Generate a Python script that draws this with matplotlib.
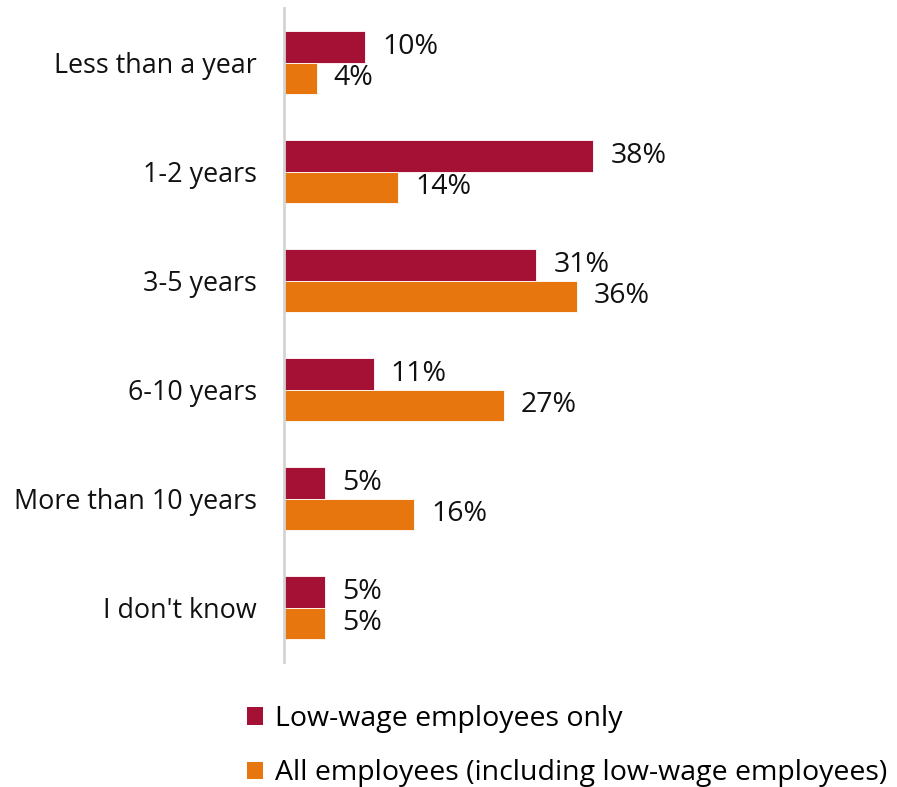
import matplotlib
matplotlib.use("Agg")
import matplotlib.pyplot as plt
import numpy as np
from matplotlib.patches import Patch

plt.rcParams['font.family'] = ['Open Sans', 'DejaVu Sans']

categories = ["Less than a year", "1-2 years", "3-5 years", "6-10 years",
              "More than 10 years", "I don't know"]
low_wage = [10, 38, 31, 11, 5, 5]
all_emp = [4, 14, 36, 27, 16, 5]
series_names = ["Low-wage employees only",
                "All employees (including low-wage employees)"]
colors = ["#A51134", "#E8760F"]

W, H = 897, 787
fig = plt.figure(figsize=(W / 100, H / 100), dpi=100)
ax_left, ax_top, ax_bottom = 284, 8, 662
ax_right = 284 + 8.14 * 70
ax = fig.add_axes([ax_left / W, 1 - ax_bottom / H,
                   (ax_right - ax_left) / W, (ax_bottom - ax_top) / H])

n = len(categories)
y = np.arange(n)
bh = 0.285
ax.barh(y - bh / 2, low_wage, height=bh, color=colors[0],
        edgecolor="white", linewidth=0.6)
ax.barh(y + bh / 2, all_emp, height=bh, color=colors[1],
        edgecolor="white", linewidth=0.6)

fs_tick, fs_val, fs_leg = 19.4, 20.5, 20.5
for yi, v in zip(y, low_wage):
    ax.text(v + 2.1, yi - bh / 2, f"{v}%", va="center", ha="left",
            fontsize=fs_val, color="#111111")
for yi, v in zip(y, all_emp):
    ax.text(v + 2.1, yi + bh / 2, f"{v}%", va="center", ha="left",
            fontsize=fs_val, color="#111111")

ax.set_xlim(0, 70)
ax.set_ylim(n - 0.5, -0.5)
ax.set_yticks(y)
ax.set_yticklabels(categories, fontsize=fs_tick, color="#111111")
ax.tick_params(axis="y", length=0, pad=19.5)
ax.set_xticks([])
for s in ["top", "right", "bottom"]:
    ax.spines[s].set_visible(False)
ax.spines["left"].set_color("#D4D4D4")
ax.spines["left"].set_linewidth(2)

handles = [Patch(facecolor=c, edgecolor="none") for c in colors]
fig.legend(handles, series_names, loc="upper left",
           bbox_to_anchor=(247 / W, 1 - 705 / H), frameon=False,
           fontsize=fs_leg, handlelength=0.55, handleheight=0.55,
           handletextpad=0.45, labelspacing=0.92, borderpad=0,
           borderaxespad=0)

fig.savefig("out.png", dpi=100)
